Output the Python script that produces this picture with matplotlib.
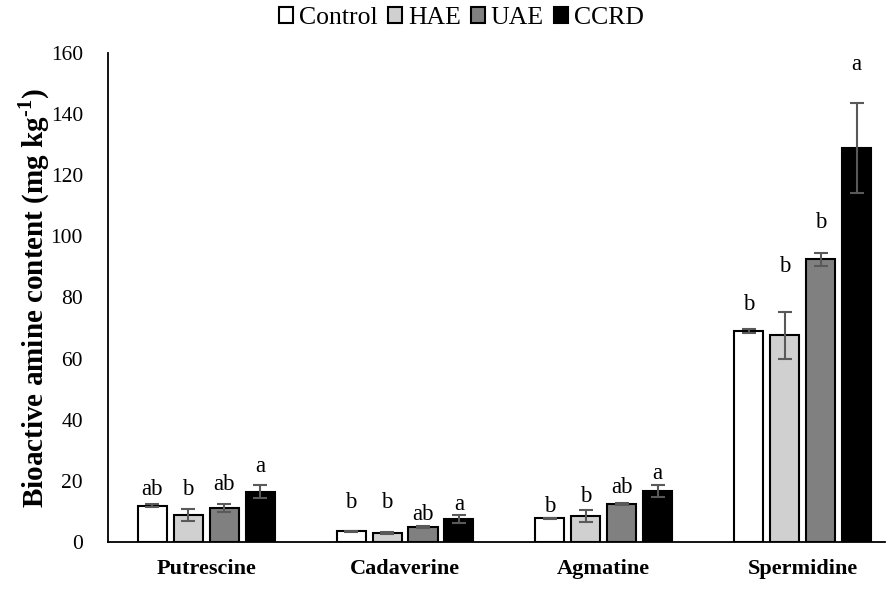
import matplotlib
matplotlib.use("Agg")
import matplotlib.pyplot as plt
import numpy as np

plt.rcParams["font.family"] = ["Liberation Serif", "DejaVu Serif"]
plt.rcParams["mathtext.fontset"] = "custom"
plt.rcParams["mathtext.rm"] = "Liberation Serif"
plt.rcParams["mathtext.bf"] = "Liberation Serif:bold"

amines = ["Putrescine", "Cadaverine", "Agmatine", "Spermidine"]
treatments = ["Control", "HAE", "UAE", "CCRD"]

control = [11.8, 3.5, 7.7, 69.0]
hae = [8.8, 3.0, 8.4, 67.6]
uae = [11.1, 4.8, 12.4, 92.5]
ccrd = [16.4, 7.5, 16.8, 128.8]

control_err = [0.5, 0.2, 0.3, 0.6]
hae_err = [1.9, 0.4, 2.0, 7.7]
uae_err = [1.3, 0.3, 0.3, 2.2]
ccrd_err = [2.1, 1.4, 2.0, 14.7]

# significance letters and the height of their baseline
control_sig = ["ab", "b", "b", "b"]
hae_sig = ["b", "b", "b", "b"]
uae_sig = ["ab", "ab", "ab", "b"]
ccrd_sig = ["a", "a", "a", "a"]

control_sig_y = [15.4, 11.1, 9.8, 75.9]
hae_sig_y = [15.4, 11.1, 13.1, 88.4]
uae_sig_y = [17.0, 7.2, 16.0, 102.7]
ccrd_sig_y = [23.0, 10.5, 20.6, 154.5]

values = [control, hae, uae, ccrd]
errors = [control_err, hae_err, uae_err, ccrd_err]
sigs = [control_sig, hae_sig, uae_sig, ccrd_sig]
sig_ys = [control_sig_y, hae_sig_y, uae_sig_y, ccrd_sig_y]
colors = ["white", "#d0d0d0", "#808080", "black"]

fig = plt.figure(figsize=(8.88, 5.90), dpi=100)
ax = fig.add_axes([0.1216, 0.0814, 0.8754, 0.8288])

x = np.arange(len(amines))
width = 0.146
step = 0.181

for i, name in enumerate(treatments):
    pos = x + (i - 1.5) * step
    ax.bar(pos, values[i], width, color=colors[i], edgecolor="black",
           linewidth=1.5, label=name, zorder=2)
    ax.errorbar(pos, values[i], yerr=errors[i], fmt="none", ecolor="#595959",
                elinewidth=1.5, capsize=5, capthick=1.5, zorder=3)
    for p, s, sy in zip(pos, sigs[i], sig_ys[i]):
        ax.text(p, sy, s, ha="center", va="baseline", fontsize=16.5)

ax.set_xlim(-0.494, 3.416)
ax.set_ylim(0, 160)
ax.set_yticks(np.arange(0, 161, 20))
ax.set_xticks(x)
ax.set_xticklabels(amines, fontsize=16, fontweight="bold")
ax.tick_params(axis="y", length=0, pad=18, labelsize=15.5)
ax.tick_params(axis="x", length=0, pad=12)

for side in ["top", "right"]:
    ax.spines[side].set_visible(False)
for side in ["left", "bottom"]:
    ax.spines[side].set_linewidth(1.3)

ax.set_ylabel("Bioactive amine content (mg kg$^{\\mathbf{\u20101}}$)",
              fontsize=21, fontweight="bold", labelpad=-1)

fig.legend(*ax.get_legend_handles_labels(), loc="center",
           bbox_to_anchor=(461.5 / 888, 0.969), ncol=4, frameon=False,
           fontsize=18.5, handlelength=0.55, handleheight=0.55,
           handletextpad=0.23, columnspacing=0.39, borderaxespad=0)

fig.savefig("out.png", dpi=100)
